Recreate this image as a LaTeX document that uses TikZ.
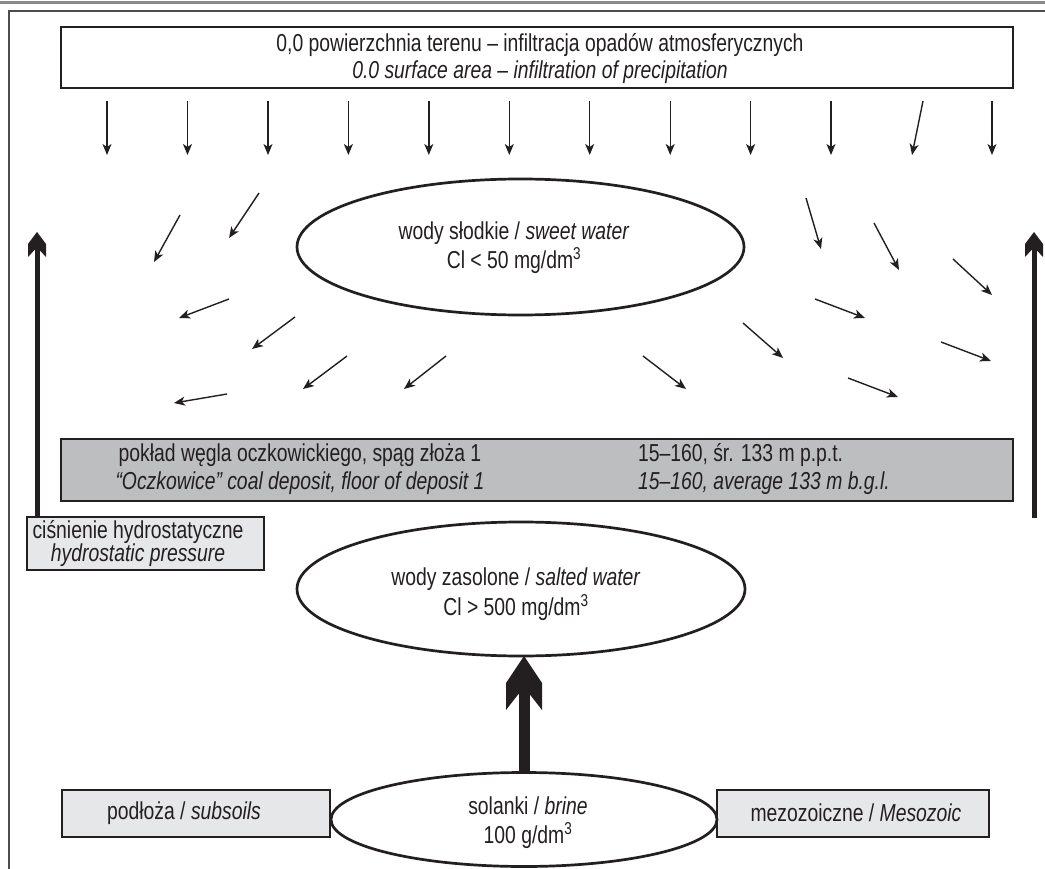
\documentclass[tikz,border=0pt]{standalone}
\usepackage{fontspec}
\setmainfont{Liberation Sans}[FakeStretch=0.79]
\usetikzlibrary{arrows.meta,shapes.geometric,calc}
\definecolor{ink}{HTML}{231F20}
\definecolor{coalgray}{HTML}{BCBEC0}
\definecolor{lightbox}{HTML}{E6E7E8}
\definecolor{framegray}{HTML}{8A8A8A}
% tip, half width, corner depth, back depth, shaft half width, join depth
\newcommand{\myhead}[6]{%
  \fill[ink] (#1) -- ($(#1)+(-#2,#3)$) -- ($(#1)+(-#2,#4)$) -- ($(#1)+(-#5,#6)$)
    -- ($(#1)+(#5,#6)$) -- ($(#1)+(#2,#4)$) -- ($(#1)+(#2,#3)$) -- cycle;}
\begin{document}
\begin{tikzpicture}[x=1pt,y=-1pt,
  every node/.style={inner sep=0pt, outer sep=0pt, text=ink},
  box/.style={draw=ink, line width=2.2pt, rectangle},
  oval/.style={draw=ink, line width=2.7pt, ellipse, fill=white},
  txt/.style={font=\fontsize{24.5}{27}\selectfont, align=center},
  small/.style={-{Stealth[length=11pt,width=9pt,inset=3pt]}, line width=1.4pt, draw=ink},
  shaftA/.style={draw=ink, line width=5pt},
  shaftB/.style={draw=ink, line width=11pt}]
\useasboundingbox (0,0) rectangle (1045,869);
% frame
\draw[framegray, line width=2.2pt] (0,2.5) -- (1045,2.5);
\draw[ink!80, line width=1.3pt] (1045,11) -- (9,11) -- (9,869);

% top box
\node[box, minimum width=952pt, minimum height=61pt] (surface) at (537,57.5) {};
\node[txt] (surfacetxt) at (540,59) {0,0 powierzchnia terenu – infiltracja opadów atmosferycznych\\\textit{0.0 surface area – infiltration of precipitation}};

% downward arrows
\foreach \i/\xa/\xb in {1/107/107,2/187.5/187.5,3/268/268,4/348.4/348.4,5/428.8/428.8,6/509.3/509.3,7/589.7/589.7,8/670.2/670.2,9/750.6/750.6,10/831/831,11/923/912,12/992/992}{
  \coordinate (d\i) at (\xa,101);
  \coordinate (f\i) at (\xb,155);
  \draw[small] (d\i) -- (f\i);
}

% sweet water
\node[oval, minimum width=447pt, minimum height=136pt] (sweet) at (520.5,247) {};
\node[txt, font=\fontsize{24.5}{29}\selectfont] (sweettxt) at (514,248) {wody słodkie / \textit{sweet water}\\Cl < 50 mg/dm\textsuperscript{3}};

% spreading arrows
\foreach \i/\xa/\ya/\xb/\yb in {1/180/215/154/262, 2/259/193/229/238, 3/229/299/179/318, 4/295/317/252/349,
  5/347/356/303/389, 6/446/356/404/389, 7/227/394/174/403,
  8/806/198/821/249, 9/874/223/899/270, 10/953/259/992/295, 11/815/299/865/318,
  12/743/323/783/358, 13/941/342/991/361, 14/848/378/898/397, 15/643/356/686/389}{
  \coordinate (s\i) at (\xa,\ya);
  \coordinate (e\i) at (\xb,\yb);
  \draw[small] (s\i) -- (e\i);
}

% coal box
\node[box, fill=coalgray, minimum width=952pt, minimum height=62pt] (coal) at (537,470) {};
\node[txt, font=\fontsize{24.5}{28}\selectfont] (coalL) at (300,469) {pokład węgla oczkowickiego, spąg złoża 1\\\textit{“Oczkowice” coal deposit, floor of deposit 1}};
\node[txt, align=left, anchor=west, font=\fontsize{24.5}{28}\selectfont] (coalR) at (638,469) {15–160, śr. 133 m p.p.t.\\\textit{15–160, average 133 m b.g.l.}};

% hydrostatic pressure
\node[box, fill=lightbox, minimum width=237pt, minimum height=53pt] (hydro) at (145.5,543.5) {};
\node[txt, font=\fontsize{24.5}{23}\selectfont] (hydrotxt) at (138,544) {ciśnienie hydrostatyczne\\\textit{hydrostatic pressure}};

\coordinate (ltip) at (37,232);
\draw[shaftA] (ltip |- hydro.north) -- ($(ltip)+(0,18)$);
\myhead{ltip}{9}{12}{25}{2.5}{18}

\coordinate (rtip) at (1034,232);
\coordinate (rbase) at (1034,518);
\draw[shaftA] (rbase) -- ($(rtip)+(0,18)$);
\myhead{rtip}{9}{12}{25}{2.5}{18}

% salted water
\node[oval, minimum width=448pt, minimum height=134pt] (salt) at (521,589) {};
\node[txt, font=\fontsize{24.5}{30}\selectfont] (salttxt) at (516,594) {wody zasolone / \textit{salted water}\\Cl > 500 mg/dm\textsuperscript{3}};

% bottom
\node[box, fill=lightbox, minimum width=268pt, minimum height=47pt] (subsoil) at (196,813.5) {};
\node[txt] (subsoiltxt) at (184,813) {podłoża / \textit{subsoils}};
\node[box, fill=lightbox, minimum width=272pt, minimum height=47pt] (meso) at (853,813.5) {};
\node[txt] (mesotxt) at (856,813) {mezozoiczne / \textit{Mesozoic}};
\node[oval, minimum width=386pt, minimum height=94pt] (brine) at (524,819.5) {};
\node[txt, font=\fontsize{24.5}{29}\selectfont] (brinetxt) at (528,823) {solanki / \textit{brine}\\100 g/dm\textsuperscript{3}};

% big central arrow
\coordinate (ctip) at (brine.north |- salt.south);
\draw[shaftB] (brine.north) -- ($(ctip)+(0,38)$);
\myhead{ctip}{18}{27}{54}{5.5}{38}
\end{tikzpicture}
\end{document}
